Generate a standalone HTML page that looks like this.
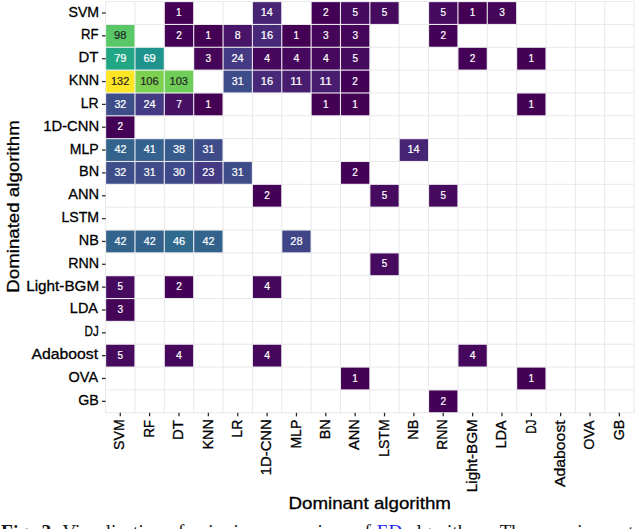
<!DOCTYPE html><html><head><meta charset="utf-8"><style>
html,body{margin:0;padding:0;background:#fff;width:640px;height:529px;overflow:hidden}
svg{display:block}
text{font-family:"Liberation Sans",sans-serif}
.t{stroke:#000000;stroke-width:0.3px}
.cap{font-family:"Liberation Serif",serif}
</style></head><body>
<svg width="640" height="529" viewBox="0 0 640 529">
<rect x="0" y="0" width="640" height="529" fill="#fff"/>

<g stroke="#e8e8eb" stroke-width="1.0"><line x1="105.60" y1="1.60" x2="105.60" y2="412.76"/><line x1="105.60" y1="1.60" x2="634.08" y2="1.60"/><line x1="134.96" y1="1.60" x2="134.96" y2="412.76"/><line x1="105.60" y1="24.44" x2="634.08" y2="24.44"/><line x1="164.32" y1="1.60" x2="164.32" y2="412.76"/><line x1="105.60" y1="47.28" x2="634.08" y2="47.28"/><line x1="193.68" y1="1.60" x2="193.68" y2="412.76"/><line x1="105.60" y1="70.13" x2="634.08" y2="70.13"/><line x1="223.04" y1="1.60" x2="223.04" y2="412.76"/><line x1="105.60" y1="92.97" x2="634.08" y2="92.97"/><line x1="252.40" y1="1.60" x2="252.40" y2="412.76"/><line x1="105.60" y1="115.81" x2="634.08" y2="115.81"/><line x1="281.76" y1="1.60" x2="281.76" y2="412.76"/><line x1="105.60" y1="138.65" x2="634.08" y2="138.65"/><line x1="311.12" y1="1.60" x2="311.12" y2="412.76"/><line x1="105.60" y1="161.49" x2="634.08" y2="161.49"/><line x1="340.48" y1="1.60" x2="340.48" y2="412.76"/><line x1="105.60" y1="184.34" x2="634.08" y2="184.34"/><line x1="369.84" y1="1.60" x2="369.84" y2="412.76"/><line x1="105.60" y1="207.18" x2="634.08" y2="207.18"/><line x1="399.20" y1="1.60" x2="399.20" y2="412.76"/><line x1="105.60" y1="230.02" x2="634.08" y2="230.02"/><line x1="428.56" y1="1.60" x2="428.56" y2="412.76"/><line x1="105.60" y1="252.86" x2="634.08" y2="252.86"/><line x1="457.92" y1="1.60" x2="457.92" y2="412.76"/><line x1="105.60" y1="275.70" x2="634.08" y2="275.70"/><line x1="487.28" y1="1.60" x2="487.28" y2="412.76"/><line x1="105.60" y1="298.55" x2="634.08" y2="298.55"/><line x1="516.64" y1="1.60" x2="516.64" y2="412.76"/><line x1="105.60" y1="321.39" x2="634.08" y2="321.39"/><line x1="546.00" y1="1.60" x2="546.00" y2="412.76"/><line x1="105.60" y1="344.23" x2="634.08" y2="344.23"/><line x1="575.36" y1="1.60" x2="575.36" y2="412.76"/><line x1="105.60" y1="367.07" x2="634.08" y2="367.07"/><line x1="604.72" y1="1.60" x2="604.72" y2="412.76"/><line x1="105.60" y1="389.91" x2="634.08" y2="389.91"/><line x1="634.08" y1="1.60" x2="634.08" y2="412.76"/><line x1="105.60" y1="412.76" x2="634.08" y2="412.76"/></g>
<rect x="164.87" y="2.15" width="28.26" height="21.74" fill="#440154"/><rect x="252.95" y="2.15" width="28.26" height="21.74" fill="#482475"/><rect x="311.67" y="2.15" width="28.26" height="21.74" fill="#440256"/><rect x="341.03" y="2.15" width="28.26" height="21.74" fill="#460b5e"/><rect x="370.39" y="2.15" width="28.26" height="21.74" fill="#460b5e"/><rect x="429.11" y="2.15" width="28.26" height="21.74" fill="#460b5e"/><rect x="458.47" y="2.15" width="28.26" height="21.74" fill="#440154"/><rect x="487.83" y="2.15" width="28.26" height="21.74" fill="#450559"/><rect x="106.15" y="24.99" width="28.26" height="21.74" fill="#58c765"/><rect x="164.87" y="24.99" width="28.26" height="21.74" fill="#440256"/><rect x="194.23" y="24.99" width="28.26" height="21.74" fill="#440154"/><rect x="223.59" y="24.99" width="28.26" height="21.74" fill="#481467"/><rect x="252.95" y="24.99" width="28.26" height="21.74" fill="#482979"/><rect x="282.31" y="24.99" width="28.26" height="21.74" fill="#440154"/><rect x="311.67" y="24.99" width="28.26" height="21.74" fill="#450559"/><rect x="341.03" y="24.99" width="28.26" height="21.74" fill="#450559"/><rect x="429.11" y="24.99" width="28.26" height="21.74" fill="#440256"/><rect x="106.15" y="47.83" width="28.26" height="21.74" fill="#22a785"/><rect x="135.51" y="47.83" width="28.26" height="21.74" fill="#1f948c"/><rect x="194.23" y="47.83" width="28.26" height="21.74" fill="#450559"/><rect x="223.59" y="47.83" width="28.26" height="21.74" fill="#443b84"/><rect x="252.95" y="47.83" width="28.26" height="21.74" fill="#46085c"/><rect x="282.31" y="47.83" width="28.26" height="21.74" fill="#46085c"/><rect x="311.67" y="47.83" width="28.26" height="21.74" fill="#46085c"/><rect x="341.03" y="47.83" width="28.26" height="21.74" fill="#460b5e"/><rect x="458.47" y="47.83" width="28.26" height="21.74" fill="#440256"/><rect x="517.19" y="47.83" width="28.26" height="21.74" fill="#440154"/><rect x="106.15" y="70.68" width="28.26" height="21.74" fill="#fde725"/><rect x="135.51" y="70.68" width="28.26" height="21.74" fill="#7cd250"/><rect x="164.87" y="70.68" width="28.26" height="21.74" fill="#6ece58"/><rect x="223.59" y="70.68" width="28.26" height="21.74" fill="#3e4c8a"/><rect x="252.95" y="70.68" width="28.26" height="21.74" fill="#482979"/><rect x="282.31" y="70.68" width="28.26" height="21.74" fill="#481c6e"/><rect x="311.67" y="70.68" width="28.26" height="21.74" fill="#481c6e"/><rect x="341.03" y="70.68" width="28.26" height="21.74" fill="#440256"/><rect x="106.15" y="93.52" width="28.26" height="21.74" fill="#3d4e8a"/><rect x="135.51" y="93.52" width="28.26" height="21.74" fill="#443b84"/><rect x="164.87" y="93.52" width="28.26" height="21.74" fill="#471164"/><rect x="194.23" y="93.52" width="28.26" height="21.74" fill="#440154"/><rect x="311.67" y="93.52" width="28.26" height="21.74" fill="#440154"/><rect x="341.03" y="93.52" width="28.26" height="21.74" fill="#440154"/><rect x="517.19" y="93.52" width="28.26" height="21.74" fill="#440154"/><rect x="106.15" y="116.36" width="28.26" height="21.74" fill="#440256"/><rect x="106.15" y="139.20" width="28.26" height="21.74" fill="#33638d"/><rect x="135.51" y="139.20" width="28.26" height="21.74" fill="#34618d"/><rect x="164.87" y="139.20" width="28.26" height="21.74" fill="#375b8d"/><rect x="194.23" y="139.20" width="28.26" height="21.74" fill="#3e4c8a"/><rect x="399.75" y="139.20" width="28.26" height="21.74" fill="#482475"/><rect x="106.15" y="162.04" width="28.26" height="21.74" fill="#3d4e8a"/><rect x="135.51" y="162.04" width="28.26" height="21.74" fill="#3e4c8a"/><rect x="164.87" y="162.04" width="28.26" height="21.74" fill="#3e4989"/><rect x="194.23" y="162.04" width="28.26" height="21.74" fill="#443983"/><rect x="223.59" y="162.04" width="28.26" height="21.74" fill="#3e4c8a"/><rect x="341.03" y="162.04" width="28.26" height="21.74" fill="#440256"/><rect x="252.95" y="184.89" width="28.26" height="21.74" fill="#440256"/><rect x="370.39" y="184.89" width="28.26" height="21.74" fill="#460b5e"/><rect x="429.11" y="184.89" width="28.26" height="21.74" fill="#460b5e"/><rect x="106.15" y="230.57" width="28.26" height="21.74" fill="#33638d"/><rect x="135.51" y="230.57" width="28.26" height="21.74" fill="#33638d"/><rect x="164.87" y="230.57" width="28.26" height="21.74" fill="#306a8e"/><rect x="194.23" y="230.57" width="28.26" height="21.74" fill="#33638d"/><rect x="282.31" y="230.57" width="28.26" height="21.74" fill="#404588"/><rect x="370.39" y="253.41" width="28.26" height="21.74" fill="#460b5e"/><rect x="106.15" y="276.25" width="28.26" height="21.74" fill="#460b5e"/><rect x="164.87" y="276.25" width="28.26" height="21.74" fill="#440256"/><rect x="252.95" y="276.25" width="28.26" height="21.74" fill="#46085c"/><rect x="106.15" y="299.10" width="28.26" height="21.74" fill="#450559"/><rect x="106.15" y="344.78" width="28.26" height="21.74" fill="#460b5e"/><rect x="164.87" y="344.78" width="28.26" height="21.74" fill="#46085c"/><rect x="252.95" y="344.78" width="28.26" height="21.74" fill="#46085c"/><rect x="458.47" y="344.78" width="28.26" height="21.74" fill="#46085c"/><rect x="341.03" y="367.62" width="28.26" height="21.74" fill="#440154"/><rect x="517.19" y="367.62" width="28.26" height="21.74" fill="#440154"/><rect x="429.11" y="390.46" width="28.26" height="21.74" fill="#440256"/>
<text transform="translate(176.08,16.22) rotate(0) scale(0.9969,1.0000)" font-size="10.04" fill="#ffffff" stroke="#ffffff" stroke-width="0.2">1</text><text transform="translate(260.75,16.22) rotate(0) scale(1.0882,1.0000)" font-size="10.04" fill="#ffffff" stroke="#ffffff" stroke-width="0.2">14</text><text transform="translate(322.99,16.22) rotate(0) scale(1.0057,1.0000)" font-size="10.04" fill="#ffffff" stroke="#ffffff" stroke-width="0.2">2</text><text transform="translate(352.42,16.22) rotate(0) scale(0.9849,1.0000)" font-size="10.04" fill="#ffffff" stroke="#ffffff" stroke-width="0.2">5</text><text transform="translate(381.78,16.22) rotate(0) scale(0.9849,1.0000)" font-size="10.04" fill="#ffffff" stroke="#ffffff" stroke-width="0.2">5</text><text transform="translate(440.50,16.22) rotate(0) scale(0.9849,1.0000)" font-size="10.04" fill="#ffffff" stroke="#ffffff" stroke-width="0.2">5</text><text transform="translate(469.68,16.22) rotate(0) scale(0.9969,1.0000)" font-size="10.04" fill="#ffffff" stroke="#ffffff" stroke-width="0.2">1</text><text transform="translate(499.19,16.22) rotate(0) scale(1.0022,1.0000)" font-size="10.04" fill="#ffffff" stroke="#ffffff" stroke-width="0.2">3</text><text transform="translate(114.09,39.06) rotate(0) scale(1.1055,1.0000)" font-size="10.04" fill="#262626" stroke="#262626" stroke-width="0.2">98</text><text transform="translate(176.19,39.06) rotate(0) scale(1.0057,1.0000)" font-size="10.04" fill="#ffffff" stroke="#ffffff" stroke-width="0.2">2</text><text transform="translate(205.44,39.06) rotate(0) scale(0.9969,1.0000)" font-size="10.04" fill="#ffffff" stroke="#ffffff" stroke-width="0.2">1</text><text transform="translate(234.77,39.06) rotate(0) scale(1.0551,1.0000)" font-size="10.04" fill="#ffffff" stroke="#ffffff" stroke-width="0.2">8</text><text transform="translate(260.77,39.06) rotate(0) scale(1.0975,1.0000)" font-size="10.04" fill="#ffffff" stroke="#ffffff" stroke-width="0.2">16</text><text transform="translate(293.52,39.06) rotate(0) scale(0.9969,1.0000)" font-size="10.04" fill="#ffffff" stroke="#ffffff" stroke-width="0.2">1</text><text transform="translate(323.03,39.06) rotate(0) scale(1.0022,1.0000)" font-size="10.04" fill="#ffffff" stroke="#ffffff" stroke-width="0.2">3</text><text transform="translate(352.39,39.06) rotate(0) scale(1.0022,1.0000)" font-size="10.04" fill="#ffffff" stroke="#ffffff" stroke-width="0.2">3</text><text transform="translate(440.43,39.06) rotate(0) scale(1.0057,1.0000)" font-size="10.04" fill="#ffffff" stroke="#ffffff" stroke-width="0.2">2</text><text transform="translate(114.15,61.91) rotate(0) scale(1.0941,1.0000)" font-size="10.04" fill="#ffffff" stroke="#ffffff" stroke-width="0.2">79</text><text transform="translate(143.45,61.91) rotate(0) scale(1.1055,1.0000)" font-size="10.04" fill="#ffffff" stroke="#ffffff" stroke-width="0.2">69</text><text transform="translate(205.59,61.91) rotate(0) scale(1.0022,1.0000)" font-size="10.04" fill="#ffffff" stroke="#ffffff" stroke-width="0.2">3</text><text transform="translate(231.49,61.91) rotate(0) scale(1.0959,1.0000)" font-size="10.04" fill="#ffffff" stroke="#ffffff" stroke-width="0.2">24</text><text transform="translate(264.20,61.91) rotate(0) scale(1.0438,1.0000)" font-size="10.04" fill="#ffffff" stroke="#ffffff" stroke-width="0.2">4</text><text transform="translate(293.56,61.91) rotate(0) scale(1.0438,1.0000)" font-size="10.04" fill="#ffffff" stroke="#ffffff" stroke-width="0.2">4</text><text transform="translate(322.92,61.91) rotate(0) scale(1.0438,1.0000)" font-size="10.04" fill="#ffffff" stroke="#ffffff" stroke-width="0.2">4</text><text transform="translate(352.42,61.91) rotate(0) scale(0.9849,1.0000)" font-size="10.04" fill="#ffffff" stroke="#ffffff" stroke-width="0.2">5</text><text transform="translate(469.79,61.91) rotate(0) scale(1.0057,1.0000)" font-size="10.04" fill="#ffffff" stroke="#ffffff" stroke-width="0.2">2</text><text transform="translate(528.40,61.91) rotate(0) scale(0.9969,1.0000)" font-size="10.04" fill="#ffffff" stroke="#ffffff" stroke-width="0.2">1</text><text transform="translate(111.00,84.75) rotate(0) scale(1.0907,1.0000)" font-size="10.04" fill="#262626" stroke="#262626" stroke-width="0.2">132</text><text transform="translate(140.16,84.75) rotate(0) scale(1.1101,1.0000)" font-size="10.04" fill="#262626" stroke="#262626" stroke-width="0.2">106</text><text transform="translate(169.62,84.75) rotate(0) scale(1.0991,1.0000)" font-size="10.04" fill="#262626" stroke="#262626" stroke-width="0.2">103</text><text transform="translate(231.83,84.75) rotate(0) scale(1.0659,1.0000)" font-size="10.04" fill="#ffffff" stroke="#ffffff" stroke-width="0.2">31</text><text transform="translate(260.77,84.75) rotate(0) scale(1.0975,1.0000)" font-size="10.04" fill="#ffffff" stroke="#ffffff" stroke-width="0.2">16</text><text transform="translate(290.23,84.75) rotate(0) scale(1.1600,1.0000)" font-size="10.04" fill="#ffffff" stroke="#ffffff" stroke-width="0.2">11</text><text transform="translate(319.59,84.75) rotate(0) scale(1.1600,1.0000)" font-size="10.04" fill="#ffffff" stroke="#ffffff" stroke-width="0.2">11</text><text transform="translate(352.35,84.75) rotate(0) scale(1.0057,1.0000)" font-size="10.04" fill="#ffffff" stroke="#ffffff" stroke-width="0.2">2</text><text transform="translate(114.43,107.59) rotate(0) scale(1.0598,1.0000)" font-size="10.04" fill="#ffffff" stroke="#ffffff" stroke-width="0.2">32</text><text transform="translate(143.41,107.59) rotate(0) scale(1.0959,1.0000)" font-size="10.04" fill="#ffffff" stroke="#ffffff" stroke-width="0.2">24</text><text transform="translate(176.15,107.59) rotate(0) scale(1.0207,1.0000)" font-size="10.04" fill="#ffffff" stroke="#ffffff" stroke-width="0.2">7</text><text transform="translate(205.44,107.59) rotate(0) scale(0.9969,1.0000)" font-size="10.04" fill="#ffffff" stroke="#ffffff" stroke-width="0.2">1</text><text transform="translate(322.88,107.59) rotate(0) scale(0.9969,1.0000)" font-size="10.04" fill="#ffffff" stroke="#ffffff" stroke-width="0.2">1</text><text transform="translate(352.24,107.59) rotate(0) scale(0.9969,1.0000)" font-size="10.04" fill="#ffffff" stroke="#ffffff" stroke-width="0.2">1</text><text transform="translate(528.40,107.59) rotate(0) scale(0.9969,1.0000)" font-size="10.04" fill="#ffffff" stroke="#ffffff" stroke-width="0.2">1</text><text transform="translate(117.47,130.43) rotate(0) scale(1.0057,1.0000)" font-size="10.04" fill="#ffffff" stroke="#ffffff" stroke-width="0.2">2</text><text transform="translate(114.45,153.27) rotate(0) scale(1.0704,1.0000)" font-size="10.04" fill="#ffffff" stroke="#ffffff" stroke-width="0.2">42</text><text transform="translate(143.77,153.27) rotate(0) scale(1.0764,1.0000)" font-size="10.04" fill="#ffffff" stroke="#ffffff" stroke-width="0.2">41</text><text transform="translate(172.98,153.27) rotate(0) scale(1.0834,1.0000)" font-size="10.04" fill="#ffffff" stroke="#ffffff" stroke-width="0.2">38</text><text transform="translate(202.47,153.27) rotate(0) scale(1.0659,1.0000)" font-size="10.04" fill="#ffffff" stroke="#ffffff" stroke-width="0.2">31</text><text transform="translate(407.55,153.27) rotate(0) scale(1.0882,1.0000)" font-size="10.04" fill="#ffffff" stroke="#ffffff" stroke-width="0.2">14</text><text transform="translate(114.43,176.11) rotate(0) scale(1.0598,1.0000)" font-size="10.04" fill="#ffffff" stroke="#ffffff" stroke-width="0.2">32</text><text transform="translate(143.75,176.11) rotate(0) scale(1.0659,1.0000)" font-size="10.04" fill="#ffffff" stroke="#ffffff" stroke-width="0.2">31</text><text transform="translate(172.97,176.11) rotate(0) scale(1.0807,1.0000)" font-size="10.04" fill="#ffffff" stroke="#ffffff" stroke-width="0.2">30</text><text transform="translate(202.25,176.11) rotate(0) scale(1.0883,1.0000)" font-size="10.04" fill="#ffffff" stroke="#ffffff" stroke-width="0.2">23</text><text transform="translate(231.83,176.11) rotate(0) scale(1.0659,1.0000)" font-size="10.04" fill="#ffffff" stroke="#ffffff" stroke-width="0.2">31</text><text transform="translate(352.35,176.11) rotate(0) scale(1.0057,1.0000)" font-size="10.04" fill="#ffffff" stroke="#ffffff" stroke-width="0.2">2</text><text transform="translate(264.27,198.96) rotate(0) scale(1.0057,1.0000)" font-size="10.04" fill="#ffffff" stroke="#ffffff" stroke-width="0.2">2</text><text transform="translate(381.78,198.96) rotate(0) scale(0.9849,1.0000)" font-size="10.04" fill="#ffffff" stroke="#ffffff" stroke-width="0.2">5</text><text transform="translate(440.50,198.96) rotate(0) scale(0.9849,1.0000)" font-size="10.04" fill="#ffffff" stroke="#ffffff" stroke-width="0.2">5</text><text transform="translate(114.45,244.64) rotate(0) scale(1.0704,1.0000)" font-size="10.04" fill="#ffffff" stroke="#ffffff" stroke-width="0.2">42</text><text transform="translate(143.81,244.64) rotate(0) scale(1.0704,1.0000)" font-size="10.04" fill="#ffffff" stroke="#ffffff" stroke-width="0.2">42</text><text transform="translate(172.98,244.64) rotate(0) scale(1.0992,1.0000)" font-size="10.04" fill="#ffffff" stroke="#ffffff" stroke-width="0.2">46</text><text transform="translate(202.53,244.64) rotate(0) scale(1.0704,1.0000)" font-size="10.04" fill="#ffffff" stroke="#ffffff" stroke-width="0.2">42</text><text transform="translate(290.26,244.64) rotate(0) scale(1.0992,1.0000)" font-size="10.04" fill="#ffffff" stroke="#ffffff" stroke-width="0.2">28</text><text transform="translate(381.78,267.48) rotate(0) scale(0.9849,1.0000)" font-size="10.04" fill="#ffffff" stroke="#ffffff" stroke-width="0.2">5</text><text transform="translate(117.54,290.32) rotate(0) scale(0.9849,1.0000)" font-size="10.04" fill="#ffffff" stroke="#ffffff" stroke-width="0.2">5</text><text transform="translate(176.19,290.32) rotate(0) scale(1.0057,1.0000)" font-size="10.04" fill="#ffffff" stroke="#ffffff" stroke-width="0.2">2</text><text transform="translate(264.20,290.32) rotate(0) scale(1.0438,1.0000)" font-size="10.04" fill="#ffffff" stroke="#ffffff" stroke-width="0.2">4</text><text transform="translate(117.51,313.17) rotate(0) scale(1.0022,1.0000)" font-size="10.04" fill="#ffffff" stroke="#ffffff" stroke-width="0.2">3</text><text transform="translate(117.54,358.85) rotate(0) scale(0.9849,1.0000)" font-size="10.04" fill="#ffffff" stroke="#ffffff" stroke-width="0.2">5</text><text transform="translate(176.12,358.85) rotate(0) scale(1.0438,1.0000)" font-size="10.04" fill="#ffffff" stroke="#ffffff" stroke-width="0.2">4</text><text transform="translate(264.20,358.85) rotate(0) scale(1.0438,1.0000)" font-size="10.04" fill="#ffffff" stroke="#ffffff" stroke-width="0.2">4</text><text transform="translate(469.72,358.85) rotate(0) scale(1.0438,1.0000)" font-size="10.04" fill="#ffffff" stroke="#ffffff" stroke-width="0.2">4</text><text transform="translate(352.24,381.69) rotate(0) scale(0.9969,1.0000)" font-size="10.04" fill="#ffffff" stroke="#ffffff" stroke-width="0.2">1</text><text transform="translate(528.40,381.69) rotate(0) scale(0.9969,1.0000)" font-size="10.04" fill="#ffffff" stroke="#ffffff" stroke-width="0.2">1</text><text transform="translate(440.43,404.53) rotate(0) scale(1.0057,1.0000)" font-size="10.04" fill="#ffffff" stroke="#ffffff" stroke-width="0.2">2</text>
<g stroke="#262626" stroke-width="1.25"><line x1="102.00" y1="13.02" x2="105.60" y2="13.02"/><line x1="120.28" y1="412.76" x2="120.28" y2="416.36"/><line x1="102.00" y1="35.86" x2="105.60" y2="35.86"/><line x1="149.64" y1="412.76" x2="149.64" y2="416.36"/><line x1="102.00" y1="58.70" x2="105.60" y2="58.70"/><line x1="179.00" y1="412.76" x2="179.00" y2="416.36"/><line x1="102.00" y1="81.55" x2="105.60" y2="81.55"/><line x1="208.36" y1="412.76" x2="208.36" y2="416.36"/><line x1="102.00" y1="104.39" x2="105.60" y2="104.39"/><line x1="237.72" y1="412.76" x2="237.72" y2="416.36"/><line x1="102.00" y1="127.23" x2="105.60" y2="127.23"/><line x1="267.08" y1="412.76" x2="267.08" y2="416.36"/><line x1="102.00" y1="150.07" x2="105.60" y2="150.07"/><line x1="296.44" y1="412.76" x2="296.44" y2="416.36"/><line x1="102.00" y1="172.91" x2="105.60" y2="172.91"/><line x1="325.80" y1="412.76" x2="325.80" y2="416.36"/><line x1="102.00" y1="195.76" x2="105.60" y2="195.76"/><line x1="355.16" y1="412.76" x2="355.16" y2="416.36"/><line x1="102.00" y1="218.60" x2="105.60" y2="218.60"/><line x1="384.52" y1="412.76" x2="384.52" y2="416.36"/><line x1="102.00" y1="241.44" x2="105.60" y2="241.44"/><line x1="413.88" y1="412.76" x2="413.88" y2="416.36"/><line x1="102.00" y1="264.28" x2="105.60" y2="264.28"/><line x1="443.24" y1="412.76" x2="443.24" y2="416.36"/><line x1="102.00" y1="287.12" x2="105.60" y2="287.12"/><line x1="472.60" y1="412.76" x2="472.60" y2="416.36"/><line x1="102.00" y1="309.97" x2="105.60" y2="309.97"/><line x1="501.96" y1="412.76" x2="501.96" y2="416.36"/><line x1="102.00" y1="332.81" x2="105.60" y2="332.81"/><line x1="531.32" y1="412.76" x2="531.32" y2="416.36"/><line x1="102.00" y1="355.65" x2="105.60" y2="355.65"/><line x1="560.68" y1="412.76" x2="560.68" y2="416.36"/><line x1="102.00" y1="378.49" x2="105.60" y2="378.49"/><line x1="590.04" y1="412.76" x2="590.04" y2="416.36"/><line x1="102.00" y1="401.33" x2="105.60" y2="401.33"/><line x1="619.40" y1="412.76" x2="619.40" y2="416.36"/></g>
<g class="t" fill="#000000"><text transform="translate(68.50,16.52) scale(0.9248,1)" font-size="15.30">SVM</text><text transform="translate(124.48,449.90) rotate(-90) scale(0.9248,1)" font-size="15.30">SVM</text><text transform="translate(80.99,39.36) scale(0.8596,1)" font-size="15.30">RF</text><text transform="translate(153.84,437.41) rotate(-90) scale(0.8596,1)" font-size="15.30">RF</text><text transform="translate(78.39,62.20) scale(0.9784,1)" font-size="15.30">DT</text><text transform="translate(183.20,440.01) rotate(-90) scale(0.9784,1)" font-size="15.30">DT</text><text transform="translate(68.86,85.05) scale(0.9383,1)" font-size="15.30">KNN</text><text transform="translate(212.56,449.54) rotate(-90) scale(0.9383,1)" font-size="15.30">KNN</text><text transform="translate(80.76,107.89) scale(0.9144,1)" font-size="15.30">LR</text><text transform="translate(241.92,437.64) rotate(-90) scale(0.9144,1)" font-size="15.30">LR</text><text transform="translate(43.20,130.73) scale(0.9690,1)" font-size="15.30">1D-CNN</text><text transform="translate(271.28,475.20) rotate(-90) scale(0.9690,1)" font-size="15.30">1D-CNN</text><text transform="translate(69.81,153.57) scale(0.9197,1)" font-size="15.30">MLP</text><text transform="translate(300.64,448.59) rotate(-90) scale(0.9197,1)" font-size="15.30">MLP</text><text transform="translate(79.12,176.41) scale(0.9439,1)" font-size="15.30">BN</text><text transform="translate(330.00,439.28) rotate(-90) scale(0.9439,1)" font-size="15.30">BN</text><text transform="translate(68.31,199.26) scale(0.9560,1)" font-size="15.30">ANN</text><text transform="translate(359.36,450.09) rotate(-90) scale(0.9560,1)" font-size="15.30">ANN</text><text transform="translate(61.52,222.10) scale(0.9222,1)" font-size="15.30">LSTM</text><text transform="translate(388.72,456.88) rotate(-90) scale(0.9222,1)" font-size="15.30">LSTM</text><text transform="translate(78.72,244.94) scale(0.9427,1)" font-size="15.30">NB</text><text transform="translate(418.08,439.68) rotate(-90) scale(0.9427,1)" font-size="15.30">NB</text><text transform="translate(68.31,267.78) scale(0.9307,1)" font-size="15.30">RNN</text><text transform="translate(447.44,450.09) rotate(-90) scale(0.9307,1)" font-size="15.30">RNN</text><text transform="translate(26.24,290.62) scale(0.9985,1)" font-size="15.30">Light-BGM</text><text transform="translate(476.80,492.16) rotate(-90) scale(0.9985,1)" font-size="15.30">Light-BGM</text><text transform="translate(69.82,313.47) scale(0.9476,1)" font-size="15.30">LDA</text><text transform="translate(506.16,448.58) rotate(-90) scale(0.9476,1)" font-size="15.30">LDA</text><text transform="translate(84.62,336.31) scale(0.7616,1)" font-size="15.30">DJ</text><text transform="translate(535.52,433.78) rotate(-90) scale(0.7616,1)" font-size="15.30">DJ</text><text transform="translate(31.42,359.15) scale(1.0316,1)" font-size="15.30">Adaboost</text><text transform="translate(564.88,486.98) rotate(-90) scale(1.0316,1)" font-size="15.30">Adaboost</text><text transform="translate(68.58,381.99) scale(0.9444,1)" font-size="15.30">OVA</text><text transform="translate(594.24,449.82) rotate(-90) scale(0.9444,1)" font-size="15.30">OVA</text><text transform="translate(78.21,404.83) scale(0.9293,1)" font-size="15.30">GB</text><text transform="translate(623.60,440.19) rotate(-90) scale(0.9293,1)" font-size="15.30">GB</text></g>
<text class="t" transform="translate(19.40,292.73) rotate(-90) scale(1.0792,1)" font-size="17.33" fill="#000000">Dominated algorithm</text>
<text class="t" transform="translate(288.46,508.50) scale(1.0821,1)" font-size="17.33" fill="#000000">Dominant algorithm</text>
<text class="cap" y="538" font-size="19.0" fill="#111"><tspan x="1.0" font-weight="bold" font-size="19.5">Fig.</tspan><tspan x="41.5" font-weight="bold" font-size="19.5">3.</tspan><tspan x="62.5" word-spacing="1.15">Visualization of pairwise comparison of <tspan fill="#2222ee">ED</tspan> algorithms. The experi<tspan dx="13">ment</tspan></tspan></text>
</svg></body></html>
